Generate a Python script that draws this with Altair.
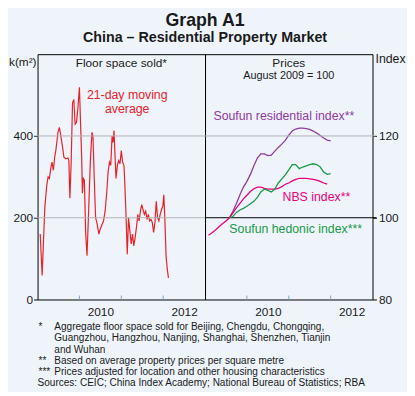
import altair as alt
import pandas as pd

FONT = "Liberation Sans"
TXT = "#1a1a1a"
RED = "#e8202a"
PURPLE = "#8e3a9e"
PINK = "#e6007e"
GREEN = "#1a9a48"
GRID = "#b4b4b4"
BG = "#eef4fa"

# ---- Left panel: floor space sold, 21-day moving average (k m^2) ----
floor_year = [
    2009.063, 2009.110, 2009.142, 2009.173, 2009.220, 2009.252, 2009.283, 2009.315, 2009.346, 2009.378,
    2009.409, 2009.441, 2009.488, 2009.520, 2009.551, 2009.598, 2009.630, 2009.677, 2009.724, 2009.748,
    2009.772, 2009.803, 2009.835, 2009.866, 2009.898, 2009.929, 2009.961, 2010.000, 2010.031, 2010.055,
    2010.071, 2010.094, 2010.118, 2010.150, 2010.181, 2010.220, 2010.260, 2010.299, 2010.323, 2010.354,
    2010.386, 2010.417, 2010.465, 2010.496, 2010.543, 2010.575, 2010.614, 2010.654, 2010.685, 2010.717,
    2010.748, 2010.780, 2010.803, 2010.827, 2010.850, 2010.874, 2010.906, 2010.937, 2010.969, 2011.000,
    2011.031, 2011.063, 2011.079, 2011.110, 2011.142, 2011.173, 2011.205, 2011.236, 2011.268, 2011.299,
    2011.331, 2011.362, 2011.394, 2011.425, 2011.457, 2011.488, 2011.520, 2011.551, 2011.583, 2011.614,
    2011.646, 2011.677, 2011.709, 2011.740, 2011.772, 2011.803, 2011.835, 2011.866, 2011.898, 2011.929,
    2011.961, 2011.992, 2012.016, 2012.039, 2012.071, 2012.102, 2012.126,
]
floor_value = [
    160, 59, 143, 224, 280, 300, 296, 320, 336, 316,
    348, 368, 409, 421, 404, 372, 348, 344, 346, 340,
    248, 336, 481, 489, 429, 433, 465, 519, 417, 344,
    260, 296, 292, 160, 107, 216, 336, 409, 400, 296,
    200, 188, 160, 172, 184, 192, 216, 264, 312, 336,
    328, 400, 384, 413, 352, 296, 328, 340, 332, 364,
    336, 328, 296, 216, 111, 200, 168, 136, 160, 131,
    152, 176, 208, 192, 216, 232, 220, 208, 216, 196,
    208, 192, 196, 188, 164, 188, 240, 200, 192, 208,
    220, 228, 256, 200, 103, 71, 53,
]

# ---- Right panel: prices, August 2009 = 100 (monthly) ----
nbs_start = "2009-02"
nbs_index = [
    95.7, 96.3, 97.0, 97.8, 98.5, 99.2, 100.0, 101.2, 102.4, 103.5, 104.6,
    105.5, 106.4, 107.1, 107.5, 107.5, 107.2, 107.0, 107.0, 107.0, 107.2, 107.6, 108.2,
    108.5, 109.0, 109.4, 109.6, 109.6, 109.6, 109.5, 109.4, 109.2, 108.9, 108.5, 108.2,
]
soufun_start = "2009-08"
soufun_residential = [
    100.0, 101.6, 103.5, 105.6, 107.5,
    108.9, 110.6, 112.7, 114.6, 115.6, 115.6, 115.2, 115.3, 116.3, 117.2, 118.0, 118.9,
    120.2, 121.2, 121.7, 121.9, 121.9, 121.8, 121.6, 121.2, 120.7, 120.1, 119.5, 119.0,
    118.8,
]
soufun_hedonic = [
    100.0, 100.3, 101.3, 101.9, 102.3,
    102.8, 103.4, 104.0, 105.0, 106.3, 107.0, 106.7, 106.3, 107.0, 108.5, 109.5, 110.5,
    111.7, 113.0, 113.0, 112.0, 112.4, 112.7, 113.0, 113.2, 113.0, 112.4, 111.2, 110.6,
    110.8,
]

year_ticks = [2010, 2011, 2012]
year_label_pos = [2010.5, 2012.5]
left_ticks = [0, 200, 400]
left_grid = [200, 400]
right_ticks = [80, 100, 120]

footnote_marks = ["*", "", "", "**", "***", ""]
footnote_lines = [
    "Aggregate floor space sold for Beijing, Chengdu, Chongqing,",
    "Guangzhou, Hangzhou, Nanjing, Shanghai, Shenzhen, Tianjin",
    "and Wuhan",
    "Based on average property prices per square metre",
    "Prices adjusted for location and other housing characteristics",
    "Sources: CEIC; China Index Academy; National Bureau of Statistics; RBA",
]


def month_series(start, vals, name):
    y, m = map(int, start.split("-"))
    base = y + (m - 1) / 12
    return pd.DataFrame({"year": [base + i / 12 for i in range(len(vals))],
                         "value": vals, "series": name})


W, H = 170, 249
xscale = alt.Scale(domain=[2009, 2013], nice=False, zero=False)

floor_df = pd.DataFrame({"year": floor_year, "value": floor_value})
nbs_df = month_series(nbs_start, nbs_index, "NBS")
res_df = month_series(soufun_start, soufun_residential, "Soufun residential")
hed_df = month_series(soufun_start, soufun_hedonic, "Soufun hedonic")

x_axis = alt.Axis(values=year_label_pos, labelExpr="floor(datum.value)", ticks=False,
                  tickSize=0, domain=False, grid=False, labelPadding=7, labelFlush=False,
                  labelOverlap=False, title=None)


def text_layer(label, x, y, size=12, color=TXT, align="center", baseline="middle", weight="normal"):
    return alt.Chart(pd.DataFrame({"label": [label]})).mark_text(
        fontSize=size, color=color, align=align, baseline=baseline, fontWeight=weight, font=FONT
    ).encode(x=alt.value(x), y=alt.value(y), text="label:N")


# ---------- Left panel ----------
ly = alt.Scale(domain=[0, 600], nice=False)
left_line = alt.Chart(floor_df).mark_line(color=RED, strokeWidth=1.2).encode(
    x=alt.X("year:Q", scale=xscale, axis=x_axis),
    y=alt.Y("value:Q", scale=ly,
            axis=alt.Axis(values=left_ticks, tickSize=4, tickColor="black", labelPadding=1,
                          domain=False, grid=False, title=None, labelFlush=False, labelOverlap=False)),
)
left_grid_rules = alt.Chart(pd.DataFrame({"value": left_grid})).mark_rule(color=GRID, strokeWidth=1).encode(
    y=alt.Y("value:Q"), x=alt.value(-4), x2=alt.value(W)
)
left_xticks = alt.Chart(pd.DataFrame({"year": year_ticks})).mark_rule(color="#7fa7c9", strokeWidth=1).encode(
    x=alt.X("year:Q"), y=alt.value(H - 4), y2=alt.value(H)
)

left_texts = [
    text_layer("Floor space sold*", 85, 9),
    text_layer("21-day moving", 91, 41, size=12.5, color=RED),
    text_layer("average", 91, 56, size=12.5, color=RED),
    text_layer("k(m²)", -29, 8, align="left"),
    text_layer("Graph A1", 170, -29, size=18, weight="bold", baseline="alphabetic"),
    text_layer("China – Residential Property Market", 170, -12, size=14.5, weight="bold", baseline="alphabetic"),
]
foot_base = [280, 291.6, 303.4, 314.8, 325.6, 337]
for mk, ln, yb in zip(footnote_marks, footnote_lines, foot_base):
    if mk:
        left_texts.append(text_layer(mk, 1, yb, size=10.2, align="left", baseline="alphabetic"))
    left_texts.append(text_layer(ln, 0 if ln.startswith("Sources") else 17, yb, size=10.2,
                                 align="left", baseline="alphabetic"))

left = alt.layer(left_line, left_grid_rules, left_xticks, *left_texts).properties(width=W, height=H)

# ---------- Right panel ----------
ry = alt.Scale(domain=[80, 140], nice=False)
res_line = alt.Chart(res_df).mark_line(color=PURPLE, strokeWidth=1.3).encode(
    x=alt.X("year:Q", scale=xscale, axis=x_axis),
    y=alt.Y("value:Q", scale=ry,
            axis=alt.Axis(orient="right", values=right_ticks, tickSize=4, tickColor="black",
                          labelPadding=2, domain=False, grid=False, title=None, labelFlush=False,
                          labelOverlap=False)),
)
r120 = alt.Chart(pd.DataFrame({"value": [120]})).mark_rule(color=GRID).encode(
    y=alt.Y("value:Q"), x=alt.value(0), x2=alt.value(W + 4))
r100 = alt.Chart(pd.DataFrame({"value": [100]})).mark_rule(color="black").encode(
    y=alt.Y("value:Q"), x=alt.value(0), x2=alt.value(W + 4))
nbs_line = alt.Chart(nbs_df).mark_line(color=PINK, strokeWidth=1.3).encode(
    x=alt.X("year:Q"), y=alt.Y("value:Q"))
hed_line = alt.Chart(hed_df).mark_line(color=GREEN, strokeWidth=1.3).encode(
    x=alt.X("year:Q"), y=alt.Y("value:Q"))
right_xticks = alt.Chart(pd.DataFrame({"year": year_ticks})).mark_rule(color="#7fa7c9", strokeWidth=1).encode(
    x=alt.X("year:Q"), y=alt.value(H - 4), y2=alt.value(H)
)
right_texts = [
    text_layer("Prices", 85, 9),
    text_layer("August 2009 = 100", 85, 22, size=11),
    text_layer("Soufun residential index**", 80, 63, size=12.5, color=PURPLE),
    text_layer("NBS index**", 113, 145, size=12.5, color=PINK),
    text_layer("Soufun hedonic index***", 92, 177, size=12.5, color=GREEN),
    text_layer("Index", 173, 5, size=12.5, align="left"),
]
right = alt.layer(res_line, r120, r100, nbs_line, hed_line, right_xticks, *right_texts).properties(
    width=W, height=H)

chart = alt.hconcat(left, right, spacing=0, bounds="flush").properties(
    padding=0, background=BG
).configure_view(stroke="black", strokeWidth=1).configure_axis(
    labelFont=FONT, labelFontSize=12, labelColor=TXT
).configure_text(font=FONT)

chart.save("out.html", embed_options={"renderer": "svg", "actions": False})
